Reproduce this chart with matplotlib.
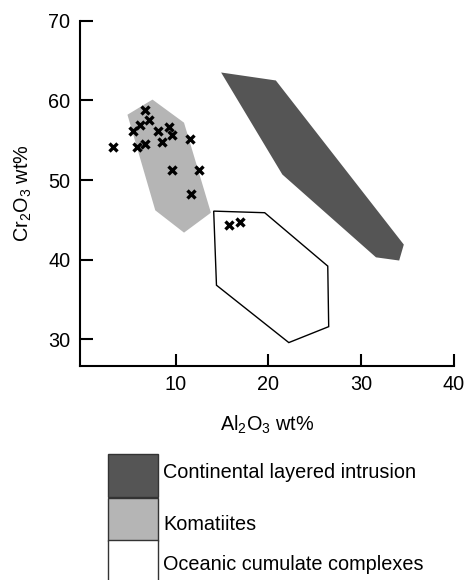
import matplotlib
matplotlib.use("Agg")
import matplotlib.pyplot as plt
from matplotlib.patches import Polygon, Rectangle

plt.rcParams["font.family"] = ["Liberation Sans", "DejaVu Sans"]
plt.rcParams["mathtext.fontset"] = "custom"
plt.rcParams["mathtext.rm"] = "Liberation Sans"

# field outlines (Al2O3, Cr2O3)
continental_al = [14.9, 20.8, 34.6, 34.1, 31.6, 21.5]
continental_cr = [63.5, 62.5, 41.9, 39.9, 40.3, 50.7]
komatiite_al = [4.8, 7.5, 10.9, 13.8, 10.9, 7.8]
komatiite_cr = [58.2, 60.1, 57.2, 45.9, 43.4, 46.2]
oceanic_al = [14.1, 19.6, 26.4, 26.5, 22.2, 14.4]
oceanic_cr = [46.1, 45.9, 39.2, 31.6, 29.6, 36.8]

# samples
al2o3 = [3.2, 5.4, 5.8, 6.2, 6.7, 6.7, 7.1, 8.1, 8.5, 9.3, 9.6, 9.6,
         11.5, 12.5, 11.6, 15.7, 16.9]
cr2o3 = [54.1, 56.1, 54.2, 56.9, 58.8, 54.5, 57.6, 56.1, 54.8, 56.7, 55.6, 51.2,
         55.2, 51.2, 48.2, 44.4, 44.7]

labels = ["Continental layered intrusion", "Komatiites", "Oceanic cumulate complexes"]
colors = ["#555555", "#b5b5b5", "#ffffff"]

fig = plt.figure(figsize=(4.66, 5.80), dpi=100)
ax = fig.add_axes([0.172, 0.3695, 0.802, 0.5948])

ax.add_patch(Polygon(list(zip(continental_al, continental_cr)), closed=True,
                     facecolor=colors[0], edgecolor="none"))
ax.add_patch(Polygon(list(zip(komatiite_al, komatiite_cr)), closed=True,
                     facecolor=colors[1], edgecolor="none"))
ax.add_patch(Polygon(list(zip(oceanic_al, oceanic_cr)), closed=True,
                     facecolor=colors[2], edgecolor="black", linewidth=1.0))
ax.plot(al2o3, cr2o3, "x", color="black", markersize=5.5, markeredgewidth=2.4)

ax.set_xlim(-0.3, 40)
ax.set_ylim(26.7, 70)
ax.set_xticks([10, 20, 30, 40])
ax.set_yticks([30, 40, 50, 60, 70])
for s in ["top", "right"]:
    ax.spines[s].set_visible(False)
for s in ["left", "bottom"]:
    ax.spines[s].set_linewidth(1.5)
ax.tick_params(direction="in", length=9, width=1.5, labelsize=14.3, pad=7)
ax.set_xlabel(r"Al$\mathregular{_2}$O$\mathregular{_3}$ wt%", fontsize=14.3, labelpad=14)
ax.set_ylabel(r"Cr$\mathregular{_2}$O$\mathregular{_3}$ wt%", fontsize=14.3, labelpad=10)

# legend boxes drawn in pixel-based figure coordinates
W, H = 466, 580
box_tops = [454, 498, 540]
text_y = [472, 525, 565]
for top, ty, c, lab in zip(box_tops, text_y, colors, labels):
    fig.patches.append(Rectangle((108 / W, 1 - (top + 43) / H), 50 / W, 43 / H,
                                 transform=fig.transFigure, facecolor=c,
                                 edgecolor="#333333", linewidth=1.0))
    fig.text(163 / W, 1 - ty / H, lab, fontsize=14.3, va="center", ha="left")

fig.savefig("out.png", dpi=100)
